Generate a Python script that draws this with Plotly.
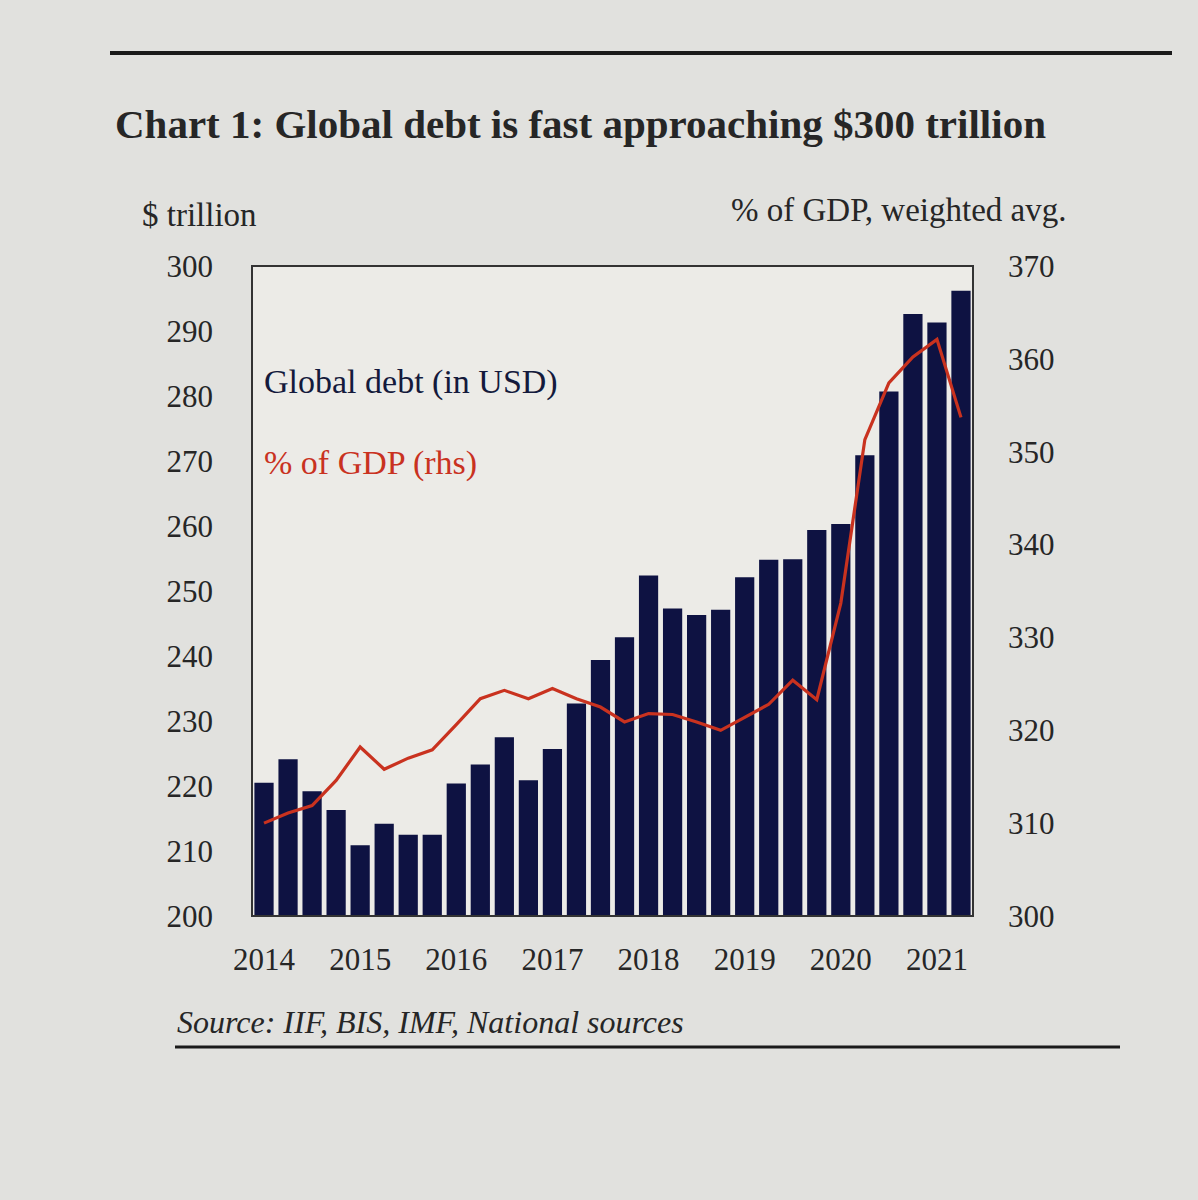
import plotly.graph_objects as go

# ---- data ----
quarters = [f"{y}Q{q}" for y in range(2014, 2022) for q in range(1, 5)][:30]
debt_usd_tn = [220.5, 224.1, 219.2, 216.3, 210.9, 214.2, 212.5, 212.5,
               220.4, 223.3, 227.5, 220.9, 225.7, 232.7, 239.4, 242.9,
               252.4, 247.3, 246.3, 247.1, 252.1, 254.8, 254.9, 259.4,
               260.3, 270.9, 280.7, 292.6, 291.3, 296.2]
debt_pct_gdp = [310.0, 311.1, 311.9, 314.6, 318.2, 315.8, 317.0, 317.9,
                320.6, 323.4, 324.3, 323.4, 324.5, 323.4, 322.5, 320.9,
                321.8, 321.7, 320.9, 320.0, 321.4, 322.8, 325.4, 323.3,
                333.7, 351.3, 357.4, 360.2, 362.1, 353.7]
year_labels = ["2014", "2015", "2016", "2017", "2018", "2019", "2020", "2021"]
left_ticks = [200, 210, 220, 230, 240, 250, 260, 270, 280, 290, 300]
right_ticks = [300, 310, 320, 330, 340, 350, 360, 370]

# ---- layout geometry (pixels) ----
W_FIG, H_FIG = 1198, 1200
L, R, T, B = 252, 973, 266, 916
PW, PH = R - L, B - T

def px(x):
    return (x - L) / PW

def py(y):
    return (B - y) / PH

FONT = "Liberation Serif"
TXT = "#262626"
NAVY = "#0e1242"
RED = "#c9321f"

xidx = list(range(len(quarters)))

fig = go.Figure()
fig.add_trace(go.Bar(x=xidx, y=debt_usd_tn, marker=dict(color=NAVY, line=dict(width=0)),
                     name="Global debt (in USD)", yaxis="y"))
fig.add_trace(go.Scatter(x=xidx, y=debt_pct_gdp, mode="lines",
                         line=dict(color=RED, width=3.2), name="% of GDP (rhs)", yaxis="y2"))

fig.update_layout(
    width=W_FIG, height=H_FIG,
    margin=dict(l=L, r=W_FIG - R, t=T, b=H_FIG - B, pad=0),
    paper_bgcolor="#e1e1de",
    plot_bgcolor="#ecebe7",
    showlegend=False,
    bargap=0.2,
    font=dict(family=FONT, color=TXT),
    xaxis=dict(range=[-0.5, len(quarters) - 0.5],
               tickvals=list(range(0, len(quarters), 4)), ticktext=year_labels,
               showgrid=False, zeroline=False, showline=False, ticks="",
               tickfont=dict(size=31, family=FONT, color=TXT), ticklabelstandoff=22),
    yaxis=dict(range=[200, 300], tickvals=left_ticks, showgrid=False, zeroline=False,
               showline=False, ticks="", tickfont=dict(size=31, family=FONT, color=TXT),
               ticklabelstandoff=38),
    yaxis2=dict(range=[300, 370], tickvals=right_ticks, overlaying="y", side="right",
                showgrid=False, zeroline=False, showline=False, ticks="",
                tickfont=dict(size=31, family=FONT, color=TXT), ticklabelstandoff=34),
)

# plot frame
fig.add_shape(type="rect", xref="paper", yref="paper", x0=0, x1=1, y0=0, y1=1,
              line=dict(color="#333333", width=2), fillcolor="rgba(0,0,0,0)", layer="above")
# top and bottom rules
fig.add_shape(type="line", xref="paper", yref="paper", x0=px(110), x1=px(1172),
              y0=py(53), y1=py(53), line=dict(color="#1a1a1a", width=4))
fig.add_shape(type="line", xref="paper", yref="paper", x0=px(175), x1=px(1120),
              y0=py(1047), y1=py(1047), line=dict(color="#1a1a1a", width=3))

def ann(text, x, y, size, xanchor="left", color=TXT, bold=False, italic=False):
    t = text
    if bold:
        t = f"<b>{t}</b>"
    if italic:
        t = f"<i>{t}</i>"
    fig.add_annotation(text=t, xref="paper", yref="paper", x=px(x), y=py(y),
                       xanchor=xanchor, yanchor="middle", showarrow=False,
                       font=dict(size=size, family=FONT, color=color))

ann("Chart 1: Global debt is fast approaching $300 trillion", 113, 124, 41, bold=True)
ann("$ trillion", 140, 215, 33)
ann("% of GDP, weighted avg.", 1068, 210, 33, xanchor="right")
ann("Global debt (in USD)", 262, 382, 34, color="#141a3c")
ann("% of GDP (rhs)", 262, 463, 34, color=RED)
ann("Source: IIF, BIS, IMF, National sources", 175, 1022, 32, italic=True)

fig.write_html("out.html", config={"displayModeBar": False},
               post_script="document.body.style.margin='0px';document.body.style.overflow='hidden';")
